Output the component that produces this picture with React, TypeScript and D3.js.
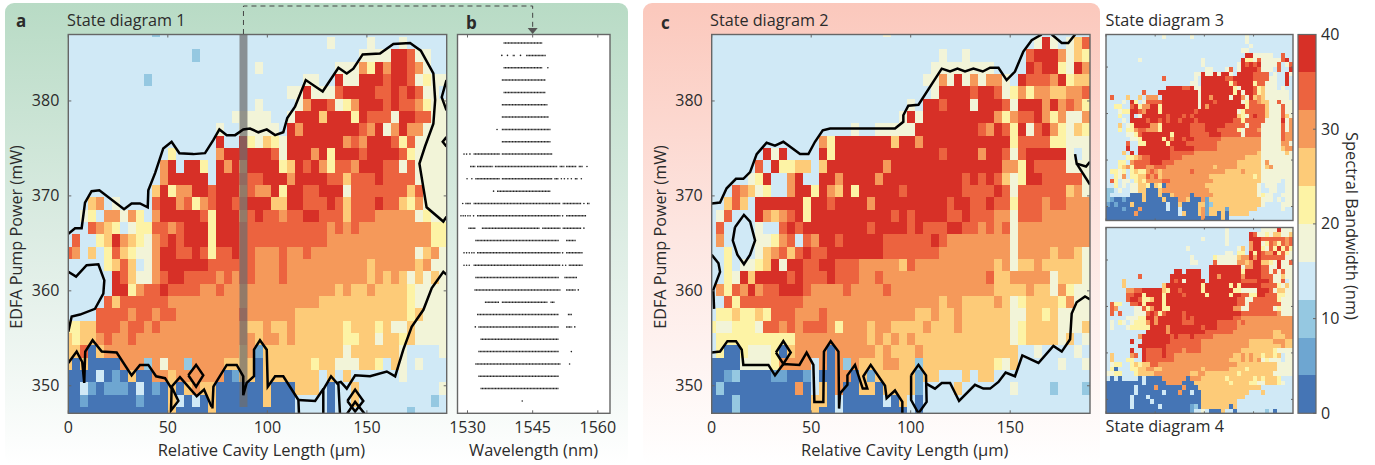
import React from 'react';
import * as d3 from 'd3';

const FONT = '"Open Sans", sans-serif';
const INK = '#2b2b2b';
const FRAME = '#666666';

// 10 colour bins, 0-40 nm, 4 nm each
const bandwidthColors = ['#4575b5', '#6ea6d1', '#95c8e1', '#d0e9f6', '#f2f4d8', '#fdf3a5', '#fdcb78', '#f5995a', '#ec633f', '#d73027'];
const bandwidthTicks = [0, 10, 20, 30, 40];

const cavityTicks = [0, 50, 100, 150];
const powerTicks = [350, 360, 370, 380];
const wavelengthTicks = [1530, 1545, 1560];

const cavityStep = 4;
const powerStep = 1.3;
const powerTop = 387.4;

// each digit is the colour bin of one cell, grouped by 6 only for reading
const diagram1 = [
  '333333 333332 333333 333333 333333 333333 333333 333333',
  '333333 333333 333333 333333 333333 333433 334333 433333',
  '333333 333333 333323 333333 333333 333333 344449 984433',
  '333333 333333 333333 333333 433333 333344 475979 987433',
  '333333 333323 333333 333333 333333 443394 499989 984544',
  '333333 333333 333333 333333 333344 944489 999889 898443',
  '333333 333333 333333 333333 433334 799845 799989 887544',
  '333333 333333 333333 333444 443349 996999 598884 998844',
  '333333 333333 333333 343344 444397 999999 987947 977444',
  '333333 333333 333333 393395 465499 999997 879998 584444',
  '333333 333333 353333 379999 998499 979599 989999 854444',
  '333333 333333 793995 397979 999569 897588 799988 484444',
  '333333 333333 799999 399988 899979 999886 888988 884444',
  '333333 333336 957799 899978 779599 889994 888888 868444',
  '333673 433338 997857 899889 996699 888986 888988 657444',
  '334537 747537 999998 599978 988788 998886 888777 774544',
  '333876 534558 878999 599988 888888 888787 877777 777755',
  '383356 976547 898999 599988 888888 888777 777777 777755',
  '873635 865447 998898 588988 777877 877777 777777 774674',
  '333335 686347 999999 888888 777877 777777 776777 776744',
  '333333 986447 899888 878788 777877 777777 776767 646464',
  '333333 995788 988887 787777 777777 777767 667666 654444',
  '333338 688888 877777 777777 777777 776666 666666 654444',
  '333388 887887 887777 777787 777776 666666 666666 656444',
  '556688 878878 777777 777776 676676 666665 666564 464444',
  '656678 778777 777777 777777 677676 666665 566466 564444',
  '668067 777777 777777 777767 166666 666664 666666 433334',
  '606000 077727 477277 776666 066666 656644 466536 434333',
  '000030 106007 767777 770166 066666 663636 333333 433333',
  '003101 110301 060676 600000 060006 663033 633333 333334',
  '001000 000100 063030 600000 060003 333033 633333 333323',
  '000000 000000 060000 600000 000003 333033 333333 323333',
];

const diagram2 = [
  '333333 333333 333333 333343 333333 333333 333333 333333',
  '333333 333333 333333 333333 333333 333333 333334 943468',
  '333333 333333 333333 333333 333334 334333 333389 997465',
  '333333 333333 333333 333333 333344 444444 333398 995497',
  '333333 333333 333333 333333 333447 494747 743988 879566',
  '333333 333333 333333 333333 333349 999899 845757 766778',
  '333333 333333 333333 333333 343998 999499 984999 797875',
  '333333 333333 333333 333333 494999 999999 757889 757447',
  '333333 333333 333333 433444 449999 999987 985948 975465',
  '333333 333333 337599 999996 997999 999999 995888 855444',
  '333333 394933 339599 999999 999998 999979 984899 999434',
  '333333 839556 636999 999979 999999 999999 977598 888444',
  '333334 593379 339979 999799 999999 998989 864599 888884',
  '333876 453379 959769 599999 899999 998888 984888 888674',
  '336863 999999 599899 997999 999999 899889 885888 788777',
  '348333 976789 599999 999998 989999 889888 774888 777777',
  '383333 433898 999999 998999 989888 998878 784777 777777',
  '373333 445783 879989 999988 888898 777777 774777 777777',
  '335333 467868 988999 999988 888887 777777 774777 767764',
  '335344 569499 889988 877777 687777 777777 674667 666664',
  '335496 999989 888988 877877 777777 777778 667777 746664',
  '375879 788999 877778 777787 777777 777777 666676 647544',
  '338588 888888 777777 777777 777776 776666 764566 665744',
  '355655 658887 778777 777777 776676 676666 664466 564444',
  '544555 488787 888757 776776 666766 676666 664566 664446',
  '355555 555557 777777 776767 676666 666666 664566 664634',
  '350054 445067 777077 777676 667666 666666 666334 333343',
  '000044 445777 737072 766677 662666 666666 546333 334334',
  '001200 001100 130077 061666 661663 336366 333333 333333',
  '020000 000007 036070 066066 661333 363333 334333 323332',
  '000200 000000 066030 000030 630333 333333 333333 333333',
  '000200 000000 060030 000000 030333 333333 333333 333333',
];

const diagram3 = [
  '333333 333333 334333 333433 333333 333334',
  '333333 333333 333333 333333 333333 333334',
  '333333 333333 333333 333333 333333 333333 433333',
  '333333 333333 333333 333333 333333 333344',
  '333333 333333 333333 333333 333333 333339 944444 33833',
  '333333 334333 333333 333333 433333 333395 548444 44893',
  '333333 333333 333333 333333 433333 333498 989444 48348',
  '333333 333333 333333 333333 344333 483499 998444 38339',
  '333333 333333 333333 333344 944949 943999 988883 43394',
  '333333 333333 338333 333343 999999 889999 988884 43393',
  '333333 333333 333333 333443 999999 958999 958844 43393',
  '333333 333333 333999 988944 999999 995499 985644 43433',
  '333333 333833 399999 999994 999999 995949 985644 44443',
  '383336 336377 739999 999994 997999 949974 967644 44443',
  '333343 953488 889999 999994 999899 999945 887664 48444',
  '335533 895779 959999 999994 979999 999995 888864 44844',
  '333455 998799 959999 999989 999999 999458 888864 44844',
  '333533 934999 999899 989899 999999 999654 898864 44864',
  '333343 999989 989899 899989 999999 998858 888844 44947',
  '333634 599997 759999 999888 899999 888884 888444 44847',
  '333535 578877 759999 999888 899988 888548 887444 44847',
  '333334 458999 999959 999888 889998 888848 888444 44877',
  '333333 445999 995979 989988 888887 777777 777444 44877',
  '333338 335599 999599 998888 888877 777777 777444 44774',
  '333339 339999 999989 999988 888877 777777 777444 44677',
  '333363 939999 999988 888877 777777 777777 776444 44464',
  '333335 567889 999988 877777 777777 777776 666444 44444',
  '333553 788889 998887 777777 777777 777666 666474 44444',
  '333567 588877 888777 777777 777677 777666 666467 44444',
  '355453 565578 767777 777877 777777 666676 666444 44444',
  '335473 556687 867777 777777 776666 666666 656444 44444',
  '385344 356577 778877 777777 777666 666666 666444 44344',
  '335343 446650 650777 777777 766666 666666 664344 43344',
  '223433 446600 067777 777777 776666 666666 664334 43344',
  '233333 000600 060067 777077 777666 666666 664544 33444',
  '210010 000600 006000 776000 716666 666666 666444 34344',
  '101000 600000 000300 600006 612666 666666 666433 33444',
  '000010 007000 000300 300006 716666 166666 663333 33433',
  '000000 070000 000000 360006 716606 066666 333333 33333',
  '000000 000000 000000 000000 700006 033333 333333 33333',
];

const diagram4 = [
  '333333 333333 333333 333333 333333 433333 333444 49444',
  '333333 333333 333333 333333 333333 433333 984454 66446',
  '333333 333333 333333 333333 433333 433333 999888 88878',
  '333333 333333 333333 333333 333333 433333 799458 75878',
  '333333 333333 333333 334333 333333 333463 799548 59585',
  '333333 333333 333333 333333 333333 443553 959877 95854',
  '333333 333333 333333 333433 333544 444677 979888 88844',
  '333333 333333 333333 333443 333844 444776 799665 49448',
  '333333 333333 333333 333333 339999 999947 799884 49444',
  '333333 333333 333339 939999 339999 999959 999884 84844',
  '333333 338333 333399 999999 339979 999979 999888 44644',
  '333363 333333 333398 949999 939999 999988 889998 44834',
  '333363 333333 336999 999999 599999 959599 999888 85464',
  '333337 788999 996599 899999 599999 995544 449998 46644',
  '333338 899599 995999 989999 959999 959988 559988 85544',
  '333338 998556 995999 999999 999999 999884 488888 85444',
  '385533 889599 995999 999999 999999 999884 888888 88444',
  '387333 344857 995599 999999 999999 997744 888888 45444',
  '383833 344489 858999 989999 999999 999988 888888 87444',
  '333334 445599 799999 989899 999999 998877 777777 77777',
  '343543 455579 799999 988899 999988 888787 777777 77777',
  '343334 555559 999799 999999 899988 888777 777777 77777',
  '333333 333399 999799 999999 988888 887777 777777 66777',
  '333333 337999 999989 888988 888777 777777 777777 66677',
  '333333 933999 999988 888888 777777 777777 666666 77766',
  '333333 339999 999888 888888 777777 777777 666666 66766',
  '333333 933988 889888 878888 777777 777766 666666 54444',
  '363333 783988 889887 777777 777777 776676 766566 56344',
  '363335 533988 888887 777777 777777 766676 767454 44344',
  '345533 565668 877777 777777 777777 777666 666666 64444',
  '350333 556677 667777 777777 677777 766665 666666 64444',
  '445533 356666 777777 777667 766666 666566 666666 44444',
  '303033 330300 007777 770777 666666 566666 656566 65333',
  '000000 000300 000777 700066 666666 656666 554466 65433',
  '000000 030000 700000 070006 666666 666666 666333 33333',
  '000000 030000 003000 700300 666666 666666 333633 33333',
  '000000 300030 000000 000000 666666 666663 333333 33333',
  '000000 300003 000000 000000 666666 666333 333333 33333',
  '000000 300000 030000 000120 666666 606333 333333 33333',
  '000000 000000 000000 000133 430006 330333 333323 03333',
];

// contour traces of diagram 1, [cavity um, pump mW]
const contour1Top = [[0,366],[3.4,366.6],[6.7,366.6],[8.4,369.3],[11.7,370.5],[15.6,370.6],[28,368.6],[31.8,369.2],[36,369.2],[39.9,368.8],[40.2,370.6],[43.6,372.4],[47.7,375],[51.9,375.7],[55.8,374.5],[62.8,374.4],[68.7,374.5],[72.9,375.9],[75.9,377],[79.6,376.4],[83.8,376.4],[87.9,377],[91.3,377.1],[95.5,376.7],[99.7,377],[103.9,376.4],[108,376.7],[110,378.2],[113.9,379.4],[119.3,382.2],[127.8,381],[135.7,383.5],[139.9,382.9],[143.2,383.4],[147.9,384.9],[156.6,385],[163.3,386],[171.7,386.1],[177.1,385.3],[183.4,382.9],[184.3,380.1],[183.4,377.6],[179.2,375.2],[176.4,373.4],[180,368.8],[188.4,367.3],[190,367.8]];
const contour1Pocket = [[0,362],[3.9,361.5],[9.2,362.7],[15.1,362.8],[18.1,361.1],[17.6,359.7],[13.4,358.1],[5.9,357.5],[1.7,357.3],[0,355.7]];
const contour1Low = [[0,352.4],[4.2,353.6],[7,352.5],[8,350.3],[8.5,353.6],[12.2,354.8],[16.8,353.6],[24.3,353.5],[31.8,351.1],[36,352.2],[40.2,352.2],[44.1,351],[48.6,350.8],[51.9,349.7],[51.6,347.4],[55.3,348.4],[51.9,349.9],[56.1,350.9],[64.5,348.9],[68.2,349.6],[72,347.8]];
const contour1Mid = [[72.4,347.6],[72.9,349.9],[79.6,352.2],[84.6,352.2],[87.9,351],[87.9,349],[89.6,350.3],[93.3,351],[93.3,353.8],[96.3,354.8],[99.7,353.8],[100.2,349.9],[103.9,351],[108,351],[115.6,348.5],[115.9,347]];
const contour1Floor = [[115.6,348.5],[124,348.4],[128.2,349.7]];
const contour1Spike = [[128.1,347],[128.1,349.6],[132,351],[135.7,350.1],[136.5,347]];
const contour1Right = [[135.2,350.3],[136.9,350.4],[139.9,349.7],[144.1,351.1],[151.6,351],[160,351.5],[164.2,351],[168.3,353.8],[172.5,356.2],[178.4,358],[182.6,360.3],[188.4,362],[190,361.7]];
const contour1EdgeA = [[190,382.2],[187.6,380.4],[190,379]];
const contour1EdgeB = [[190,376.2],[188.1,375.7],[190,375.2]];
const contour1Diamond = [[60.3,351.1],[64.2,352.2],[67.8,351.1],[64.2,349.9],[60.3,351.1]];
const contour1DiamondB = [[140.2,348.4],[144.1,349.6],[148.2,348.4],[144.1,347.3],[140.2,348.4]];
const contour1Tip = [[139.9,347],[144.1,348.3],[149.1,347]];

// contour traces of diagram 2
const contour2Top = [[0,369.2],[4.2,369.3],[7.5,370.8],[12.2,371.8],[15.9,371.8],[19.3,372.5],[22.6,374.4],[27.6,375.6],[31.8,375.3],[36,375.7],[44.4,374.4],[48.6,374.4],[51.9,375.7],[55.8,376.9],[59.5,377.1],[92.1,377.1],[96.3,377.8],[96.3,378.5],[98.8,379.5],[103.9,379.6],[115.6,383.4],[119.8,383.1],[123.5,383.4],[127.3,383.1],[131.5,383.4],[136.2,383.1],[139.9,383.5],[144.1,383.5],[148.2,382.2],[152.4,383.1],[156.6,385.2],[160.8,386.4],[165.8,387]];
const contour2Corner = [[170.9,387],[175.9,386.1],[179.2,386.1],[182.6,387]];
const contour2EdgeA = [[182.6,374.4],[183.4,373.4],[188.1,373.1],[190.1,373.6]];
const contour2EdgeB = [[183.4,373.4],[190.1,371.2]];
const contour2Oval = [[11.7,366.7],[16.2,368],[19.3,367.3],[21.8,365.3],[19.3,363.8],[16.2,362.8],[12.9,363.8],[10.6,365.3],[11.7,366.7]];
const contour2Left = [[0,363.8],[3.4,362.9],[4.2,362],[0.8,360.1],[1.2,358.1]];
const contour2Low = [[0,353.5],[4.2,353.6],[7.9,354.7],[12.2,354.7],[15.1,353.8],[15.9,352.2],[28.5,352.2],[31.8,351.1],[36,352.3],[44.1,352.2],[47.7,353.5],[51.1,352.2],[51.6,348.3],[56.1,348.3],[56.4,353.6],[59.8,354.7],[63.7,353.6],[64,347.6],[64.5,349.2],[68.2,350.1],[68.2,351.1],[72,352.2],[75.9,349.7],[78.2,349.7],[76.2,351],[79.9,352.2],[87.1,350],[87.9,348.7],[92.1,349.5],[95.8,348.3],[95.8,347.1]];
const contour2Diamond = [[32.3,353.5],[36,354.7],[39.7,353.5],[36,352.3],[32.3,353.5]];
const contour2Loop = [[100.2,351.1],[103.9,352.2],[107.7,351.1],[108,348.3],[103.9,347.1],[100.2,348.5],[100.2,351.1]];
const contour2Right = [[108,350.2],[112.2,349.7],[115.6,350.3],[119.8,350.3],[124.3,348.4],[132.3,350.1],[136.5,349.7],[139.9,349.7],[144.1,350.4],[147.7,351.4],[152.4,351],[156.1,353.2],[164.2,352.4],[171.7,354.2],[175.9,353.6],[180.1,354.9],[180.9,357.6],[183.4,358.8],[187.6,359.4],[190.1,359.1]];

const contours1 = [contour1Top, contour1Pocket, contour1Low, contour1Mid, contour1Floor, contour1Spike, contour1Right, contour1EdgeA, contour1EdgeB, contour1Diamond, contour1DiamondB, contour1Tip];
const contours2 = [contour2Top, contour2Corner, contour2EdgeA, contour2EdgeB, contour2Oval, contour2Left, contour2Low, contour2Diamond, contour2Loop, contour2Right];

// slice through diagram 1 at 88 um
const sliceCavity = [86, 90];

// spectral lines per pump row, [from nm, to nm]; a lone dot has from == to
const spectra = [
  [[1538.3,1547.2]],
  [[1537.9,1537.9],[1539.2,1539.2],[1540.4,1540.9],[1542.2,1542.2],[1543.5,1548]],
  [[1538.3,1547.2],[1548.5,1548.5]],
  [[1537.9,1548]],
  [[1538.3,1548]],
  [[1537.9,1548.4]],
  [[1537.9,1548.7]],
  [[1536.8,1536.8],[1537.9,1549.1]],
  [[1537.9,1549.1]],
  [[1529.2,1529.2],[1529.8,1529.8],[1530.4,1530.8],[1531.4,1537.5],[1537.9,1549.5]],
  [[1530.6,1531.8],[1532.2,1535.9],[1536.3,1550.7],[1551.2,1552.3],[1552.7,1555.1],[1555.6,1556.5],[1557.5,1557.5]],
  [[1529.9,1529.9],[1531,1531],[1531.8,1537.5],[1537.9,1549.5],[1550,1551],[1551.6,1551.6],[1552.3,1552.3],[1553.1,1553.1],[1553.9,1553.9],[1554.7,1555.4],[1556.2,1556.2]],
  [[1536,1536],[1536.8,1549.1]],
  [[1528.9,1528.9],[1529.5,1530.8],[1531.4,1551.4],[1551.9,1556.2],[1556.8,1556.8],[1557.5,1558.1]],
  [[1528.5,1528.5],[1529,1529],[1529.5,1529.5],[1530.1,1530.1],[1530.6,1530.6],[1531.4,1531.4],[1532.2,1551.4],[1551.9,1551.9],[1552.7,1557.3]],
  [[1530.2,1531.9],[1533.3,1546.6],[1547.2,1551.4],[1551.9,1556.2],[1556.8,1556.8]],
  [[1531.8,1551],[1552.7,1554.9]],
  [[1529.2,1529.2],[1529.8,1529.8],[1530.4,1530.4],[1531,1531],[1531.5,1531.5],[1532.2,1551.4],[1551.9,1551.9],[1552.7,1556.5]],
  [[1529.2,1529.2],[1529.8,1529.8],[1530.4,1530.4],[1531.4,1551.4],[1551.9,1551.9],[1552.6,1552.6],[1553.3,1556.5]],
  [[1531.8,1551],[1552.3,1555.2]],
  [[1531.6,1551.4],[1552.7,1554.9],[1555.5,1555.5]],
  [[1534,1537.3],[1537.9,1548.4],[1549.1,1550.1]],
  [[1532.2,1551],[1553.1,1554.1]],
  [[1531.8,1531.8],[1532.5,1551],[1552.7,1554.1],[1554.7,1554.7]],
  [[1533,1551]],
  [[1532.5,1551],[1553.9,1553.9]],
  [[1531.8,1551.4],[1553.5,1553.5]],
  [[1532.5,1551]],
  [[1533,1551]],
  [[1542.6,1542.6]],
];

const binColor = d3.scaleQuantize<string>().domain([0, 40]).range(bandwidthColors);
const parseRows = (rows: string[], cols: number) =>
  rows.map(r => r.replace(/\s/g, '').padEnd(cols, '3').slice(0, cols).split('').map(c => +c * 4 + 2));

const Frame = ({ x, y, xTicks, yTicks, len = 3 }: any) => {
  const [x0, x1] = x.range();
  const [y1, y0] = y.range();
  return (
    <g stroke={FRAME} fill="none">
      <rect x={x0} y={y0} width={x1 - x0} height={y1 - y0} strokeWidth={1.4} />
      {xTicks.map((t: number) => (
        <g key={t} strokeWidth={1}>
          <line x1={x(t)} x2={x(t)} y1={y1} y2={y1 - len} />
          <line x1={x(t)} x2={x(t)} y1={y0} y2={y0 + len} />
        </g>
      ))}
      {yTicks.map((t: number) => (
        <g key={t} strokeWidth={1}>
          <line x1={x0} x2={x0 + len} y1={y(t)} y2={y(t)} />
          <line x1={x1} x2={x1 - len} y1={y(t)} y2={y(t)} />
        </g>
      ))}
    </g>
  );
};

const Cells = ({ id, x, y, children }: any) => {
  const [x0, x1] = x.range();
  const [y1, y0] = y.range();
  return (
    <g>
      <clipPath id={id}><rect x={x0} y={y0} width={x1 - x0} height={y1 - y0} /></clipPath>
      <g clipPath={`url(#${id})`}>{children}</g>
    </g>
  );
};

// diagrams 1 and 2: cells are centred on the measured cavity / pump steps
const LargeMap = ({ id, rows, contours, x, y, children }: any) => {
  const grid = parseRows(rows, 48);
  const line = d3.line<number[]>().x(d => x(d[0])).y(d => y(d[1]));
  return (
    <Cells id={id} x={x} y={y}>
      <g shapeRendering="crispEdges">
        {grid.map((row, r) => {
          const py = powerTop - r * powerStep;
          return row.map((v, k) => {
            const c = k * cavityStep;
            return (
              <rect key={`${r}-${k}`} x={x(c - cavityStep / 2)} width={x(c + cavityStep / 2) - x(c - cavityStep / 2)}
                y={y(py + powerStep / 2)} height={y(py - powerStep / 2) - y(py + powerStep / 2)} fill={binColor(v)} />
            );
          });
        })}
      </g>
      {children}
      {contours.map((c: number[][], i: number) => (
        <path key={i} d={line(c) as string} fill="none" stroke="#000" strokeWidth={2.5} strokeLinejoin="miter" />
      ))}
    </Cells>
  );
};

const SmallMap = ({ id, rows, x, y }: any) => {
  const grid = parseRows(rows, 47);
  const [x0, x1] = x.range();
  const [y1, y0] = y.range();
  const bx = d3.scaleBand<number>().domain(d3.range(47)).range([x0, x1]);
  const by = d3.scaleBand<number>().domain(d3.range(40)).range([y0, y1]);
  return (
    <Cells id={id} x={x} y={y}>
      <g shapeRendering="crispEdges">
        {grid.map((row, r) => row.map((v, k) => (
          <rect key={`${r}-${k}`} x={bx(k)} y={by(r)} width={bx.bandwidth()} height={by.bandwidth()} fill={binColor(v)} />
        )))}
      </g>
    </Cells>
  );
};

const txt = { fontFamily: FONT, fill: INK };

const App = () => {
  const powerDomain = [347.1, 387];
  const cavityDomain = [0, 190.1];
  const yMain = d3.scaleLinear().domain(powerDomain).range([413.3, 34.5]);
  const xA = d3.scaleLinear().domain(cavityDomain).range([68.3, 446.7]);
  const xC = d3.scaleLinear().domain(cavityDomain).range([711.7, 1090]);
  const xB = d3.scaleLinear().domain([1527.7, 1562.8]).range([457.5, 610]);
  const xD = d3.scaleLinear().domain(cavityDomain).range([1106, 1293]);
  const yD = d3.scaleLinear().domain([347, 387]).range([220.5, 34.5]);
  const yE = d3.scaleLinear().domain([347, 387]).range([413.3, 227.5]);
  const yBar = d3.scaleLinear().domain([0, 40]).range([413.3, 34.5]);

  return (
    <svg width={1375} height={465} style={{ position: 'absolute', left: 0, top: 0, background: '#fff' }}>
      <defs>
        <linearGradient id="bgGreen" x1="0" x2="0" y1="0" y2="1">
          <stop offset="0" stopColor="#b8dbc5" />
          <stop offset="0.5" stopColor="#dcece3" />
          <stop offset="1" stopColor="#ffffff" />
        </linearGradient>
        <linearGradient id="bgPink" x1="0" x2="0" y1="0" y2="1">
          <stop offset="0" stopColor="#fbc8bc" />
          <stop offset="0.5" stopColor="#fde6e1" />
          <stop offset="1" stopColor="#ffffff" />
        </linearGradient>
      </defs>
      <rect x={5} y={3} width={623} height={462} rx={9} fill="url(#bgGreen)" />
      <rect x={643} y={3} width={457} height={462} rx={9} fill="url(#bgPink)" />

      {/* a */}
      <LargeMap id="clipA" rows={diagram1} contours={contours1} x={xA} y={yMain}>
        <rect x={xA(sliceCavity[0])} width={xA(sliceCavity[1]) - xA(sliceCavity[0])} y={34.5} height={372.5}
          fill="#6e6e6e" opacity={0.72} />
      </LargeMap>
      <Frame x={xA} y={yMain} xTicks={cavityTicks} yTicks={powerTicks} />

      {/* b */}
      <rect x={457.5} y={34.5} width={152.5} height={378.8} fill="#fff" />
      <g>
        {spectra.map((segs, r) => {
          const py = powerTop - (r + 1) * powerStep;
          return segs.map((s, i) => s[0] === s[1]
            ? <circle key={`${r}-${i}`} cx={xB(s[0])} cy={yMain(py)} r={0.8} fill="#222" />
            : <line key={`${r}-${i}`} x1={xB(s[0])} x2={xB(s[1])} y1={yMain(py)} y2={yMain(py)} stroke="#222"
                strokeWidth={1.5} strokeDasharray="1.1 0.35" />);
        })}
      </g>
      <Frame x={xB} y={yMain} xTicks={wavelengthTicks} yTicks={[]} />

      {/* dashed link from the slice to panel b */}
      <path d={`M${xA(88)},34 V6 H${xB(1545)} V27`} fill="none" stroke="#444" strokeWidth={1} strokeDasharray="5 4" />
      <path d={`M${xB(1545) - 5},28 H${xB(1545) + 5} L${xB(1545)},34 Z`} fill="#555" />

      {/* c */}
      <LargeMap id="clipC" rows={diagram2} contours={contours2} x={xC} y={yMain} />
      <Frame x={xC} y={yMain} xTicks={cavityTicks} yTicks={powerTicks} />

      {/* d, e */}
      <SmallMap id="clipD" rows={diagram3} x={xD} y={yD} />
      <Frame x={xD} y={yD} xTicks={cavityTicks} yTicks={powerTicks} len={2} />
      <SmallMap id="clipE" rows={diagram4} x={xD} y={yE} />
      <Frame x={xD} y={yE} xTicks={cavityTicks} yTicks={powerTicks} len={2} />

      {/* colour bar */}
      <g shapeRendering="crispEdges">
        {bandwidthColors.map((c, i) => (
          <rect key={c} x={1298} width={18} y={yBar((i + 1) * 4)} height={yBar(i * 4) - yBar((i + 1) * 4)} fill={c} />
        ))}
      </g>
      <rect x={1298} y={34.5} width={18} height={378.8} fill="none" stroke={FRAME} strokeWidth={1.2} />
      {bandwidthTicks.map(t => (
        <g key={t}>
          <line x1={1316} x2={1313} y1={yBar(t)} y2={yBar(t)} stroke={FRAME} />
          <text x={1317} y={yBar(t) + 5.5} dx={4} fontSize={16} {...txt}>{t}</text>
        </g>
      ))}
      <text transform="translate(1346,226) rotate(90)" textAnchor="middle" fontSize={16.4} {...txt}>Spectral Bandwidth (nm)</text>

      {/* tick labels */}
      {[xA, xC].map((x, n) => (
        <g key={n}>
          {cavityTicks.map(t => (
            <text key={t} x={x(t)} y={432.5} textAnchor="middle" fontSize={16} {...txt}>{t}</text>
          ))}
          {powerTicks.map(t => (
            <text key={t} x={x(0) - 9} y={yMain(t) + 5.5} textAnchor="end" fontSize={16} {...txt}>{t}</text>
          ))}
          <text x={x(97)} y={455.5} textAnchor="middle" fontSize={16.5} {...txt}>Relative Cavity Length (µm)</text>
          <text transform={`translate(${x(0) - 46},237) rotate(-90)`} textAnchor="middle" fontSize={16.2} {...txt}>EDFA Pump Power (mW)</text>
        </g>
      ))}
      {wavelengthTicks.map(t => (
        <text key={t} x={xB(t)} y={432.5} textAnchor="middle" fontSize={16} {...txt}>{t}</text>
      ))}
      <text x={533.5} y={455.5} textAnchor="middle" fontSize={16.4} {...txt}>Wavelength (nm)</text>

      {/* titles */}
      <text x={16} y={27} fontSize={17} fontWeight={700} {...txt}>a</text>
      <text x={466} y={29} fontSize={17} fontWeight={700} {...txt}>b</text>
      <text x={661} y={29} fontSize={17} fontWeight={700} {...txt}>c</text>
      <text x={67} y={26} fontSize={16.2} {...txt}>State diagram 1</text>
      <text x={710} y={26} fontSize={16.2} {...txt}>State diagram 2</text>
      <text x={1105.5} y={26} fontSize={16.2} {...txt}>State diagram 3</text>
      <text x={1105.5} y={432} fontSize={16.2} {...txt}>State diagram 4</text>
    </svg>
  );
};

export default App;
